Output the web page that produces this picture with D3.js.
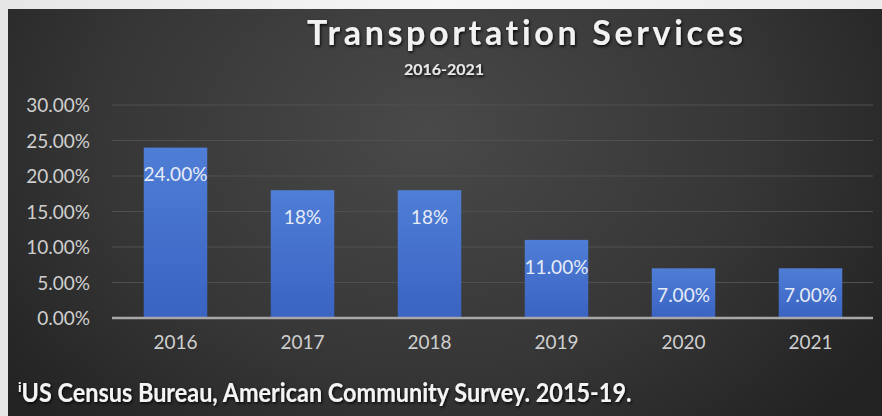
<!DOCTYPE html>
<html>
<head>
<meta charset="utf-8">
<script src="https://cdn.jsdelivr.net/npm/d3@7"></script>
<style>
  html, body { margin:0; padding:0; background:#ededed; }
  svg { display:block; }
  text { font-variant-ligatures: none; }
</style>
</head>
<body>
<svg id="chart" width="882" height="416"></svg>
<script>
// data
var years = ["2016","2017","2018","2019","2020","2021"];
var values = [24, 18, 18, 11, 7, 7];
var labels = ["24.00%","18%","18%","11.00%","7.00%","7.00%"];
var yTicks = [0, 5, 10, 15, 20, 25, 30];

var W = 882, H = 416;
var svg = d3.select("#chart");
var defs = svg.append("defs");

// page + panel background
var pg = defs.append("linearGradient").attr("id","pagebg").attr("x1",0).attr("x2",1);
pg.append("stop").attr("offset","0").attr("stop-color","#e6e6e6");
pg.append("stop").attr("offset","0.5").attr("stop-color","#f6f6f6");
pg.append("stop").attr("offset","1").attr("stop-color","#ececec");
svg.append("rect").attr("width",W).attr("height",H).attr("fill","url(#pagebg)");

var rg = defs.append("radialGradient").attr("id","panelbg")
    .attr("cx","0.48").attr("cy","0.3").attr("r","0.62")
    .attr("gradientTransform","translate(0.48,0.3) scale(1,1.6) translate(-0.48,-0.3)");
rg.append("stop").attr("offset","0").attr("stop-color","#494949");
rg.append("stop").attr("offset","0.6").attr("stop-color","#363636");
rg.append("stop").attr("offset","1").attr("stop-color","#232323");
svg.append("rect").attr("x",8).attr("y",9).attr("width",W-8).attr("height",H-9)
    .attr("fill","url(#panelbg)");

var bg = defs.append("linearGradient").attr("id","bargrad").attr("x1",0).attr("x2",0).attr("y1",0).attr("y2",1);
bg.append("stop").attr("offset","0").attr("stop-color","#4f7ed6");
bg.append("stop").attr("offset","1").attr("stop-color","#3a63c2");

var sh = defs.append("filter").attr("id","shadow").attr("x","-10%").attr("y","-30%").attr("width","120%").attr("height","160%");
sh.append("feDropShadow").attr("dx",1).attr("dy",1.5).attr("stdDeviation",1.5)
    .attr("flood-color","#000").attr("flood-opacity",0.9);

// scales
var x = d3.scaleBand().domain(years).range([112, 874]).paddingInner(0.5).paddingOuter(0.25);
var y = d3.scaleLinear().domain([0, 30]).range([318, 105]);

// gridlines
svg.append("g").selectAll("line").data(yTicks.filter(function(d){ return d > 0; }))
  .enter().append("line")
    .attr("x1",112).attr("x2",873)
    .attr("y1",function(d){ return y(d); }).attr("y2",function(d){ return y(d); })
    .attr("stroke","#505050").attr("stroke-width",1);

// y axis labels
var yAxis = d3.axisLeft(y).tickValues(yTicks).tickSize(0).tickPadding(0)
    .tickFormat(function(d){ return d3.format(".2f")(d) + "%"; });
var gy = svg.append("g").attr("transform","translate(90,0)").call(yAxis);
gy.select(".domain").remove();
gy.selectAll("text").attr("fill","#cfcfcf").attr("font-family","Lato, sans-serif")
    .attr("font-size",19).attr("dy","0.35em");

// bars
svg.append("g").selectAll("rect").data(values).enter().append("rect")
    .attr("x",function(d,i){ return x(years[i]); })
    .attr("y",function(d){ return y(d); })
    .attr("width",x.bandwidth())
    .attr("height",function(d){ return y(0) - y(d); })
    .attr("fill","url(#bargrad)");

// bar value labels
svg.append("g").selectAll("text").data(values).enter().append("text")
    .attr("x",function(d,i){ return x(years[i]) + x.bandwidth()/2; })
    .attr("y",function(d){ return y(d) + 27; })
    .attr("dy","0.35em")
    .attr("text-anchor","middle")
    .attr("fill","#e6ecf7")
    .attr("font-family","Lato, sans-serif")
    .attr("font-size",19)
    .text(function(d,i){ return labels[i]; });

// baseline
svg.append("line").attr("x1",112).attr("x2",873).attr("y1",y(0)).attr("y2",y(0))
    .attr("stroke","#a8a8a8").attr("stroke-width",2.5);

// x axis labels
var xAxis = d3.axisBottom(x).tickSize(0).tickPadding(0);
var gx = svg.append("g").attr("transform","translate(0,342)").call(xAxis);
gx.select(".domain").remove();
gx.selectAll("text").attr("fill","#cfcfcf").attr("font-family","Lato, sans-serif")
    .attr("font-size",19).attr("dy","0.35em");

// title
svg.append("text").attr("x",525).attr("y",45).attr("text-anchor","middle")
    .attr("fill","#f2f2f2").attr("font-family","Lato, sans-serif").attr("font-weight","bold")
    .attr("font-size",34).attr("textLength",436).attr("lengthAdjust","spacing")
    .attr("filter","url(#shadow)")
    .text("Transportation Services");

svg.append("text").attr("x",444).attr("y",75).attr("text-anchor","middle")
    .attr("fill","#e8e8e8").attr("font-family","Lato, sans-serif").attr("font-weight","bold")
    .attr("font-size",16).attr("filter","url(#shadow)")
    .text("2016-2021");

// footnote
var fn = svg.append("text").attr("x",18).attr("y",402)
    .attr("fill","#f4f4f4").attr("font-family","Lato, sans-serif").attr("font-weight","bold")
    .attr("font-size",27).attr("filter","url(#shadow)");
fn.append("tspan").attr("font-size",14).attr("dy",-10).text("i");
fn.append("tspan").attr("dy",10).attr("textLength",610).attr("lengthAdjust","spacingAndGlyphs")
    .text("US Census Bureau, American Community Survey. 2015-19.");
</script>
</body>
</html>
